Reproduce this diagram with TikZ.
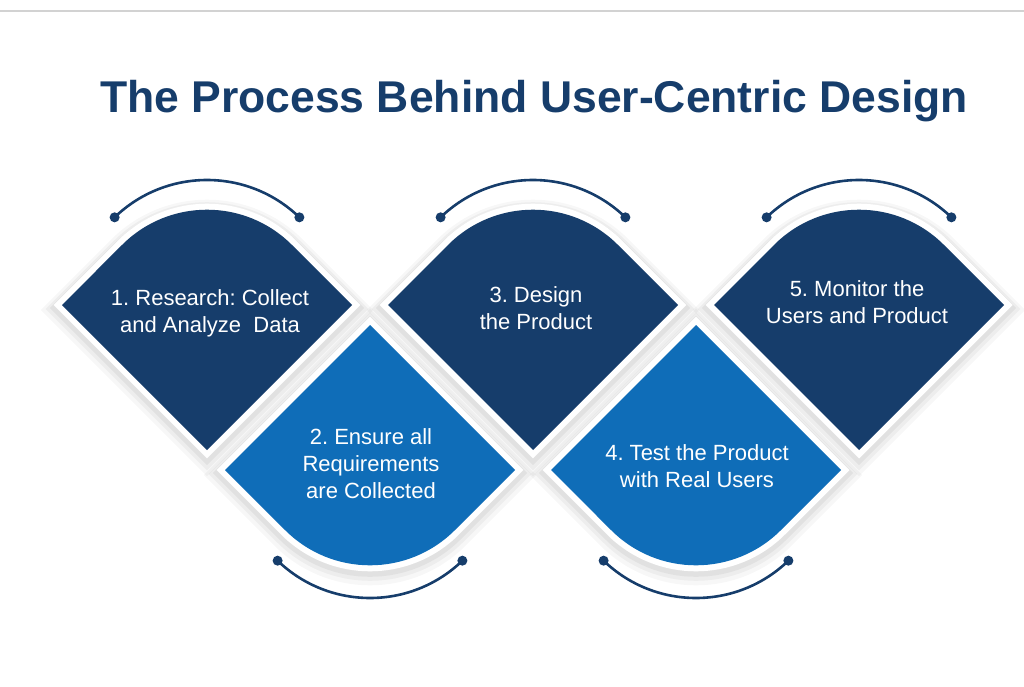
\documentclass[tikz,border=0pt]{standalone}
\usepackage{fontspec}
\setmainfont{Liberation Sans}
\frenchspacing
\definecolor{navy}{HTML}{163D6B}
\definecolor{azure}{HTML}{0F6DB8}
\definecolor{rulegray}{HTML}{D2D2D2}
\tikzset{
  tile/.style={line join=round,
    preaction={draw=black,draw opacity=.03,line width=30pt,transform canvas={yshift=-5pt}},
    preaction={draw=black,draw opacity=.04,line width=23pt,transform canvas={yshift=-4pt}},
    preaction={draw=black,draw opacity=.05,line width=17pt,transform canvas={yshift=-3pt}},
    preaction={draw=white,line width=12pt,line join=miter}},
  darktile/.style={tile,fill=navy},
  lighttile/.style={tile,fill=azure},
  hoop/.style={draw=navy,line width=2.6pt},
  steptext/.style={text=white,align=center,font=\fontsize{22}{27}\selectfont},
}
\begin{document}
\begin{tikzpicture}[x=1pt,y=1pt]
\useasboundingbox (0,0) rectangle (1024,-687);
\draw[rulegray,line width=1.5pt] (0,-11) -- (1024,-11);
\node[anchor=base,text=navy,font=\fontsize{44.5}{50}\selectfont\bfseries] (title) at (534,-113) {The Process Behind User-Centric Design};

% dark steps, rounded on top, hoop above
\foreach \x in {207,533,859}{
  \path[darktile] (\x-145,-305) -- (\x,-450) -- (\x+145,-305) -- (\x+84.85,-244.85)
    arc[start angle=45,end angle=135,radius=120pt] -- cycle;
  \draw[hoop] (\x,-313) ++(46:133pt) arc[start angle=46,end angle=134,radius=133pt];
  \fill[navy] (\x,-313) ++(46:133pt) circle (5pt) (\x,-313) ++(134:133pt) circle (5pt);
}
% light steps, rounded below, hoop underneath
\foreach \x in {370,696}{
  \path[lighttile] (\x-145,-470) -- (\x,-325) -- (\x+145,-470) -- (\x+84.85,-530.15)
    arc[start angle=-45,end angle=-135,radius=120pt] -- cycle;
  \draw[hoop] (\x,-465) ++(-46:133pt) arc[start angle=-46,end angle=-134,radius=133pt];
  \fill[navy] (\x,-465) ++(-46:133pt) circle (5pt) (\x,-465) ++(-134:133pt) circle (5pt);
}

\node[steptext] (s1) at (210,-313) {1. Research: Collect\\and Analyze~ Data};
\node[steptext] (s2) at (371,-464) {2. Ensure all\\Requirements\\are Collected};
\node[steptext] (s3) at (536,-308) {3. Design\\the Product};
\node[steptext] (s4) at (697,-466) {4. Test the Product\\with Real Users};
\node[steptext] (s5) at (857,-302) {5. Monitor the\\Users and Product};
\end{tikzpicture}
\end{document}
